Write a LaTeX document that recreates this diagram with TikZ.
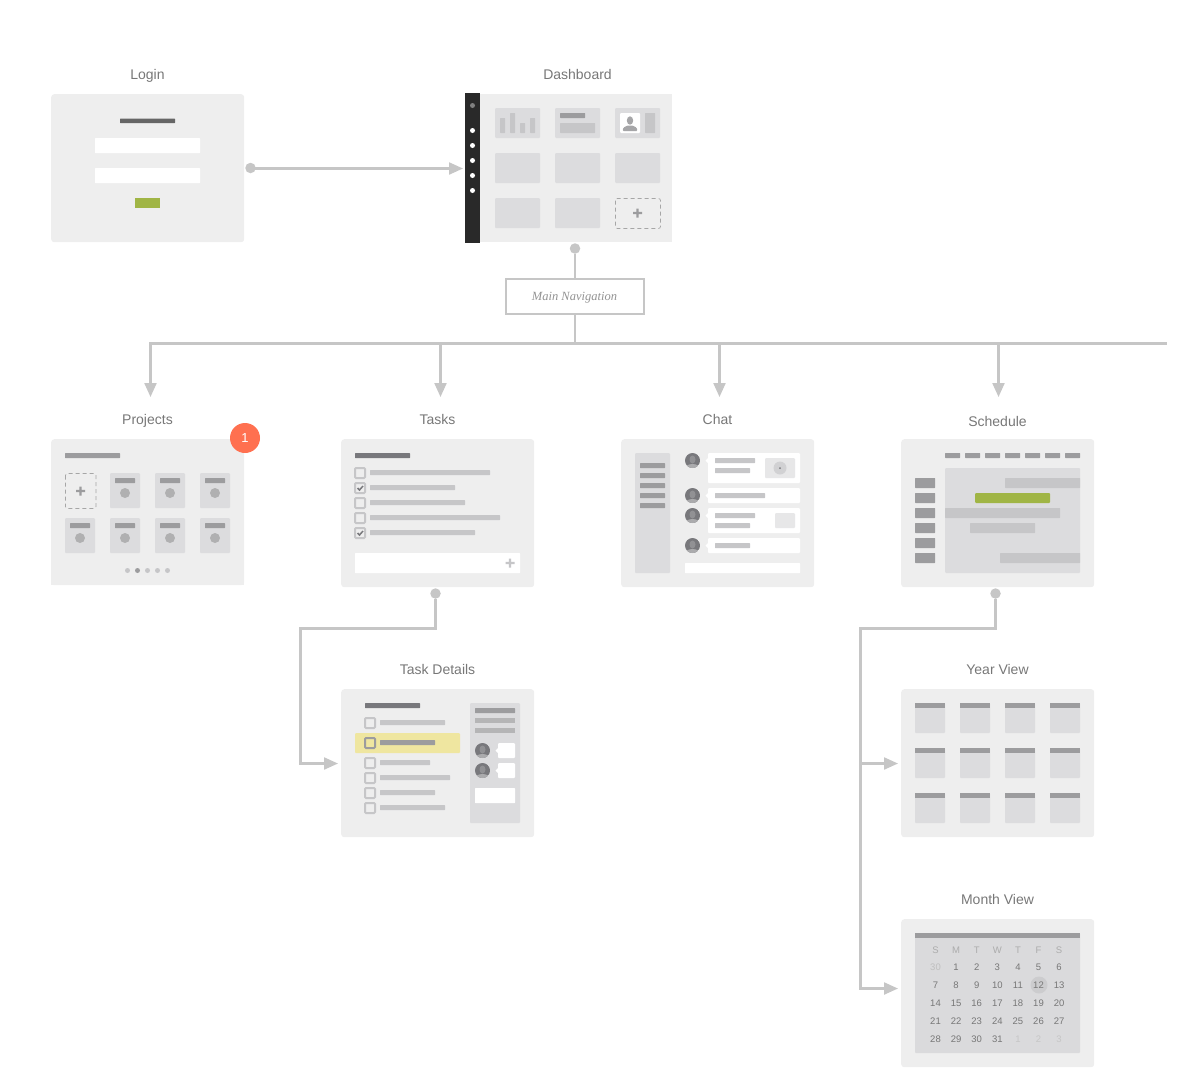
\documentclass[tikz,border=0pt]{standalone}
\usepackage{fontspec}
\setmainfont{Liberation Sans}
\newfontfamily\navfont{Liberation Serif}
\usetikzlibrary{arrows.meta, positioning}
\definecolor{screengray}{RGB}{238,238,238}
\definecolor{tilegray}{RGB}{220,220,222}
\definecolor{linegray}{RGB}{198,198,200}
\definecolor{bargray}{RGB}{156,156,158}
\definecolor{darkbar}{RGB}{120,120,124}
\definecolor{wiregray}{RGB}{198,198,198}
\definecolor{labelgray}{RGB}{119,119,119}
\definecolor{okgreen}{RGB}{160,181,69}
\definecolor{notered}{RGB}{255,112,80}
\definecolor{markyellow}{RGB}{239,230,160}
\tikzset{
    % Pages
    screen/.style={rectangle, rounded corners=3pt, fill=screengray, anchor=north west,
                minimum width=193pt, minimum height=148pt, inner sep=0pt},
    pagelbl/.style={font=\fontsize{14}{16}\selectfont, text=labelgray, inner sep=0pt,
                text height=10pt, text depth=3pt},
    % Wire pieces
    wire/.style={line width=2.2pt, wiregray},
    warrow/.style={wire, -{Triangle[length=14pt, width=12pt]}},
    wdot/.style={circle, fill=wiregray, minimum size=10.5pt, inner sep=0pt},
    navbox/.style={rectangle, draw=wiregray, line width=2pt, fill=white, minimum width=138pt,
                minimum height=35pt, font=\navfont\itshape\fontsize{12.5}{14}\selectfont, text=gray!85,
                text height=11pt, text depth=3pt, inner sep=0pt},
    % Page content
    tile/.style={fill=tilegray, rounded corners=1pt},
    lightbar/.style={fill=linegray, rounded corners=0.5pt},
    midbar/.style={fill=bargray, rounded corners=0.5pt},
    darkrule/.style={fill=darkbar, rounded corners=0.5pt},
    whitebox/.style={fill=white, rounded corners=0.5pt},
    dashtile/.style={draw=gray!70, line width=0.7pt, dash pattern=on 4pt off 3pt, rounded corners=2pt},
    checkbox/.style={draw=#1, line width=2pt, rounded corners=1pt},
    checkbox/.default=linegray,
    tick/.style={draw=darkbar, line width=1.5pt},
    daylbl/.style={font=\fontsize{9.5}{11}\selectfont, text=#1, inner sep=0pt},
    daylbl/.default=labelgray,
}
% small glyphs
\newcommand{\plusmark}[3]{\fill[#3] (#1-4.5,#2-1.2) rectangle (#1+4.5,#2+1.2) (#1-1.2,#2-4.5) rectangle (#1+1.2,#2+4.5);}
\newcommand{\avatar}[2]{
    \begin{scope}
    \clip (#1,#2) circle (7.5pt);
    \fill[darkbar] (#1,#2) circle (7.5pt);
    \fill[bargray!85] (#1,#2+8) ellipse (7.5pt and 4.5pt);
    \fill[bargray!70!darkbar] (#1,#2-1) ellipse (3pt and 4pt);
    \end{scope}
}

\begin{document}
\begin{tikzpicture}[x=1pt, y=-1pt]
\useasboundingbox (0,0) rectangle (1204,1080);

% Login
\node[pagelbl] (loginlbl) at (147.5,76) {Login};
\node[screen] (login) at (51,94) {};
\fill[fill=black!60, rounded corners=0.5pt] (120,118.5) rectangle (175,123);
\fill[whitebox] (95,138) rectangle (200,153);
\fill[whitebox] (95,168) rectangle (200,183);
\fill[okgreen] (135,198) rectangle (160,208);

% Dashboard
\node[pagelbl] (dashlbl) at (577.5,76) {Dashboard};
\node[screen, sharp corners, minimum width=192pt] (dash) at (480,94) {};
\node[rectangle, fill=black!84, anchor=north west, minimum width=15pt, minimum height=150pt, inner sep=0pt] (dashbar) at (465,93) {};
\fill[gray] (472.5,105.5) circle (2.5pt);
\foreach \y in {130.5,145.5,...,190.5} \fill[white] (472.5,\y) circle (2.5pt);
\foreach \x in {495,555,615} \foreach \y in {108,153} \fill[tile] (\x,\y) rectangle +(45,30);
\foreach \x in {495,555} \fill[tile] (\x,198) rectangle +(45,30);
\foreach \x/\y in {500/118,510/113,520/123,530/118} \fill[lightbar] (\x,\y) rectangle (\x+5,133);
\fill[midbar] (560,113) rectangle (585,118);
\fill[lightbar] (560,123) rectangle (595,133);
\fill[white, rounded corners=1pt] (620,113) rectangle (640,133);
\fill[lightbar] (645,113) rectangle (655,133);
\fill[bargray!90] (630,120.5) ellipse (3.2pt and 4.2pt);
\fill[bargray!90, rounded corners=1pt] (622.5,131) -- (623.5,127.5) -- (627.5,125.5) -- (632.5,125.5) -- (636.5,127.5) -- (637.5,131) -- cycle;
\draw[dashtile] (615.5,198.5) rectangle (660.5,228.5);
\plusmark{637.5}{213}{bargray}

% Main Navigation
\node[wdot] (dashdot) at (575,248.5) {};
\node[navbox] (nav) at (574.5,296) {Main Navigation};

% Projects
\node[pagelbl] (projlbl) at (147.5,421) {Projects};
\node[screen, minimum height=146pt] (proj) at (51,439) {};
\fill[screengray] (51,575) rectangle (244,585);
\fill[midbar] (65,453) rectangle (120,458);
\draw[dashtile] (65.5,473.5) rectangle (96,508.5);
\plusmark{80.5}{491}{bargray}
\foreach \x/\y in {110/473,155/473,200/473,65/518,110/518,155/518,200/518} {
    \fill[tile] (\x,\y) rectangle +(30,35);
    \fill[midbar] (\x+5,\y+5) rectangle +(20,5);
    \fill[bargray!80] (\x+15,\y+20) circle (5pt);
}
\foreach \x in {127.5,147.5,157.5,167.5} \fill[linegray] (\x,570.5) circle (2.5pt);
\fill[bargray] (137.5,570.5) circle (2.5pt);
\node[circle, fill=notered, minimum size=30pt, inner sep=0pt, text=white, font=\fontsize{13}{15}\selectfont] (badge) at (245,438) {1};

% Tasks
\node[pagelbl] (taskslbl) at (437.5,421) {Tasks};
\node[screen] (tasks) at (341,439) {};
\fill[darkrule] (355,453) rectangle (410,458);
\foreach \y/\e in {473/490,488/455,503/465,518/500,533/475} {
    \draw[checkbox] (355,\y-5) rectangle +(10,10);
    \fill[lightbar] (370,\y-3) rectangle (\e,\y+2);
}
\foreach \y in {488,533} \draw[tick] (357.5,\y) -- (359.5,\y+2) -- (363,\y-2);
\fill[whitebox] (355,553) rectangle (520,573);
\plusmark{510}{563}{linegray}

% Task Details
\node[pagelbl] (detaillbl) at (437.5,671) {Task Details};
\node[screen] (detail) at (341,689) {};
\fill[darkrule] (365,703) rectangle (420,708);
\fill[markyellow, rounded corners=1pt] (355,733) rectangle (460,753);
\foreach \y/\e in {723/445,763/430,778/450,793/435,808/445} {
    \draw[checkbox] (365,\y-5) rectangle +(10,10);
    \fill[lightbar] (380,\y-3) rectangle (\e,\y+2);
}
\draw[checkbox=bargray] (365,738) rectangle +(10,10);
\fill[midbar] (380,740) rectangle (435,745);
\fill[tile] (470,703) rectangle (520,823);
\fill[midbar] (475,708) rectangle (515,713);
\foreach \y in {718,728} \fill[fill=bargray!75] (475,\y) rectangle +(40,5);
\foreach \y in {750.5,770.5} {
    \avatar{482.5}{\y}
    \fill[white, rounded corners=1pt] (498,\y-7.5) rectangle (515,\y+7.5);
    \fill[white] (498,\y-2.5) -- (495.5,\y) -- (498,\y+2.5) -- cycle;
}
\fill[whitebox] (475,788) rectangle (515,803);

% Chat
\node[pagelbl] (chatlbl) at (717.5,421) {Chat};
\node[screen] (chat) at (621,439) {};
\fill[tile] (635,453) rectangle (670,573);
\foreach \y in {463,473,...,503} \fill[midbar] (640,\y) rectangle +(25,5);
\foreach \t/\b/\a in {453/483/460.5,488/503/495.5,508/533/515.5,538/553/545.5} {
    \avatar{692.5}{\a}
    \fill[white, rounded corners=1pt] (708,\t) rectangle (800,\b);
    \fill[white] (708,\a-2.5) -- (705.5,\a) -- (708,\a+2.5) -- cycle;
}
\foreach \y/\e in {458/755,468/750,493/765,513/755,523/750,543/750} \fill[lightbar] (715,\y) rectangle (\e,\y+5);
\fill[tilegray!70, rounded corners=1pt] (765,458) rectangle (795,478);
\fill[linegray!80] (780,468) circle (6.5pt);
\fill[darkbar] (780,468) circle (1pt);
\fill[tilegray!70, rounded corners=1pt] (775,513) rectangle (795,528);
\fill[whitebox] (685,563) rectangle (800,573);

% Schedule
\node[pagelbl] (schedlbl) at (997.5,423) {Schedule};
\node[screen] (sched) at (901,439) {};
\foreach \x in {945,965,...,1065} \fill[midbar] (\x,453) rectangle +(15,5);
\fill[tile] (945,468) rectangle (1080,573);
\foreach \y in {478,493,...,553} \fill[midbar] (915,\y) rectangle +(20,10);
\foreach \s/\y/\e in {1005/478/1080,945/508/1060,970/523/1035,1000/553/1080} \fill[lightbar] (\s,\y) rectangle (\e,\y+10);
\fill[okgreen, rounded corners=1pt] (975,493) rectangle (1050,503);

% Year View
\node[pagelbl] (yearlbl) at (997.5,671) {Year View};
\node[screen] (year) at (901,689) {};
\foreach \x in {915,960,1005,1050} \foreach \y in {703,748,793} {
    \fill[tile] (\x,\y) rectangle +(30,30);
    \fill[bargray] (\x,\y) rectangle +(30,5);
}

% Month View
\node[pagelbl] (monthlbl) at (997.5,901) {Month View};
\node[screen] (month) at (901,919) {};
\fill[tilegray!99!black, rounded corners=1pt] (915,933) rectangle (1080,1053);
\fill[bargray] (915,933) rectangle (1080,938);
\fill[linegray!90] (1039,985) circle (8.5pt);
\foreach \d [count=\i from 0] in {S,M,T,W,T,F,S}
    \node[daylbl=gray!65] (head\i) at (935.5+20.6*\i,950) {\d};
\foreach \d [count=\i from 0] in {1,...,6}
    \node[daylbl] (first\i) at (956.1+20.6*\i,967) {\d};
\node[daylbl=gray!50] (prevday) at (935.5,967) {30};
\foreach \d [count=\i from 0] in {7,...,13}
    \node[daylbl] (sec\i) at (935.5+20.6*\i,985) {\d};
\foreach \d [count=\i from 0] in {14,...,20}
    \node[daylbl] (third\i) at (935.5+20.6*\i,1003) {\d};
\foreach \d [count=\i from 0] in {21,...,27}
    \node[daylbl] (fourth\i) at (935.5+20.6*\i,1021) {\d};
\foreach \d [count=\i from 0] in {28,...,31}
    \node[daylbl] (fifth\i) at (935.5+20.6*\i,1039) {\d};
\foreach \d [count=\i from 0] in {1,2,3}
    \node[daylbl=gray!45] (next\i) at (1017.9+20.6*\i,1039) {\d};

% Arrows
\node[wdot] (logindot) at (250.5,168) {};
\coordinate (dashin) at (463,168.5);
\draw[warrow] (logindot |- dashin) -- (dashin);
\draw[wire] (dashdot) -- (dashdot |- nav.north);

% Main navigation line
\coordinate (trunk) at (575,343.5);
\coordinate (trunkend) at (1166,343.5);
\coordinate (projin) at (150.5,397);
\coordinate (tasksin) at (440.5,397);
\coordinate (chatin) at (719.5,397);
\coordinate (schedin) at (998.5,397);
\draw[wire] (trunk |- nav.south) -- (trunk);
\draw[wire, line cap=rect] (trunk -| projin) -- (trunkend);
\foreach \t in {projin,tasksin,chatin,schedin}
    \draw[warrow] (trunk -| \t) -- (\t);

% Tasks to Task Details
\coordinate (detailelbow) at (300.5,628.5);
\coordinate (detailin) at (338,763.5);
\node[wdot] (tasksdot) at (435.5,593.5) {};
\draw[warrow] (tasksdot) |- (detailelbow) |- (detailin);

% Schedule to Year and Month
\coordinate (schedelbow) at (860.5,628.5);
\coordinate (yearin) at (898,763.5);
\coordinate (monthin) at (898,988.5);
\node[wdot] (scheddot) at (995.5,593.5) {};
\draw[warrow] (scheddot) |- (schedelbow) |- (monthin);
\draw[warrow] (schedelbow |- yearin) -- (yearin);

\end{tikzpicture}
\end{document}
